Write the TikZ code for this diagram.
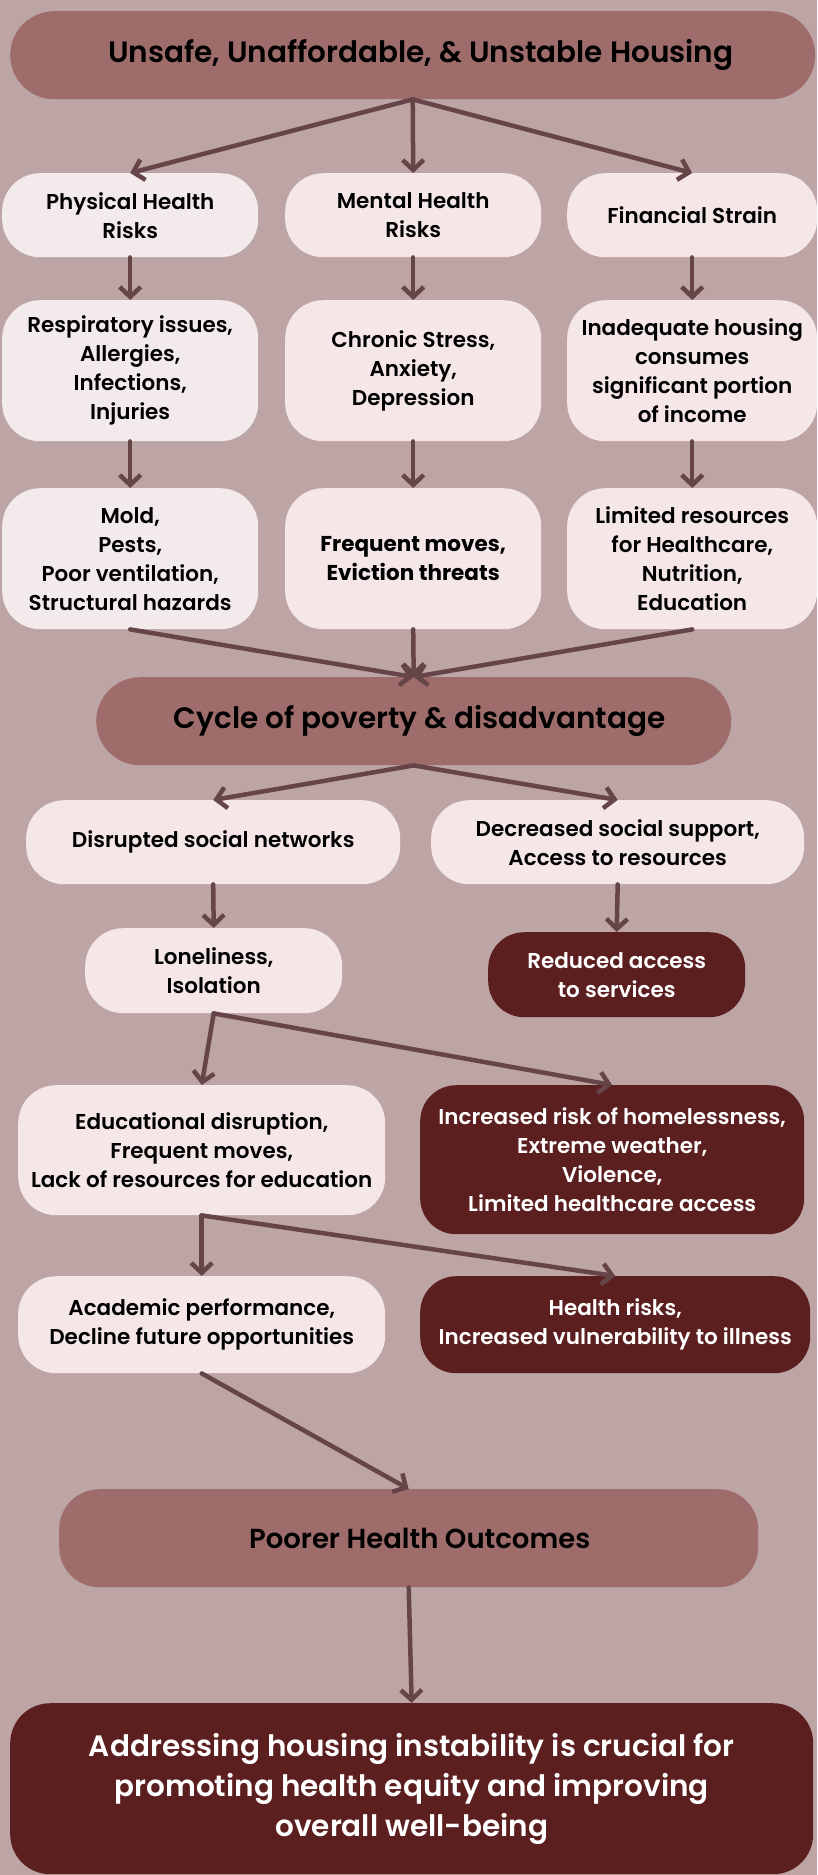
\documentclass[tikz,border=0pt]{standalone}
\usepackage{fontspec}
\setmainfont{Poppins}[UprightFont=* SemiBold, BoldFont=* Bold]
\usetikzlibrary{arrows.meta}
\definecolor{bgc}{HTML}{BDA5A5}
\definecolor{mainc}{HTML}{9E6D6B}
\definecolor{lightA}{HTML}{F3EBEB}
\definecolor{lightB}{HTML}{F5E7E7}
\definecolor{darkc}{HTML}{5C1F20}
\definecolor{arrc}{HTML}{664549}
\tikzset{
  box/.style={rectangle, anchor=north west, align=center, inner sep=0pt, text=black,
    font=\fontsize{21.5}{29}\selectfont},
  lbox/.style={box, fill=lightB, rounded corners=38pt},
  lboxA/.style={box, fill=lightA, rounded corners=38pt},
  dbox/.style={box, fill=darkc, text=white, rounded corners=36pt},
  mbox/.style={box, fill=mainc, rounded corners=44pt, font=\fontsize{29.5}{34}\selectfont},
  arr/.style={draw=arrc, line width=4.5pt, line cap=round, -{Straight Barb[length=10pt,width=21pt]}},
}
\begin{document}
\begin{tikzpicture}[x=1pt,y=-1pt]
\fill[bgc] (0,0) rectangle (817,1875);
\useasboundingbox (0,0) rectangle (817,1875);
% title
\node[mbox, minimum width=805pt, minimum height=88pt] (t) at (10,11) {\hspace*{16pt}Unsafe, Unaffordable, \& Unstable Housing};
% row 1
\node[lboxA, minimum width=256pt, minimum height=84pt] (p1) at (2,173) {Physical Health\\Risks};
\node[lbox, minimum width=256pt, minimum height=84pt] (m1) at (285,173) {Mental Health\\Risks};
\node[lbox, minimum width=250pt, minimum height=84pt] (f1) at (567,173) {Financial Strain};
% row 2
\node[lboxA, minimum width=256pt, minimum height=141pt] (p2) at (2,300) {Respiratory issues,\\Allergies,\\Infections,\\Injuries};
\node[lbox, minimum width=256pt, minimum height=141pt] (m2) at (285,300) {Chronic Stress,\\Anxiety,\\Depression};
\node[lbox, minimum width=250pt, minimum height=141pt] (f2) at (567,300) {Inadequate housing\\consumes\\significant portion\\of income};
% row 3
\node[lboxA, minimum width=256pt, minimum height=141pt] (p3) at (2,488) {Mold,\\Pests,\\Poor ventilation,\\Structural hazards};
\node[lbox, minimum width=256pt, minimum height=141pt] (m3) at (285,488) {\bfseries Frequent moves,\\\bfseries Eviction threats};
\node[lbox, minimum width=250pt, minimum height=141pt] (f3) at (567,488) {Limited resources\\for Healthcare,\\Nutrition,\\Education};
% cycle
\node[mbox, minimum width=635pt, minimum height=88pt] (cy) at (96,677) {\hspace*{12pt}Cycle of poverty \& disadvantage};
% social
\node[lbox, minimum width=374pt, minimum height=84pt] (ds) at (26,800) {Disrupted social networks};
\node[lbox, minimum width=373pt, minimum height=84pt] (dc) at (431,800) {Decreased social support,\\Access to resources};
\node[lbox, minimum width=257pt, minimum height=85pt] (lo) at (85,928) {Loneliness,\\Isolation};
\node[dbox, minimum width=257pt, minimum height=85pt] (ra) at (488,932) {Reduced access\\to services};
% education
\node[lbox, minimum width=367pt, minimum height=130pt] (ed) at (18,1085) {Educational disruption,\\Frequent moves,\\Lack of resources for education};
\node[dbox, minimum width=384pt, minimum height=149pt] (ir) at (420,1085) {Increased risk of homelessness,\\Extreme weather,\\Violence,\\Limited healthcare access};
\node[lbox, minimum width=367pt, minimum height=97pt] (ac) at (18,1276) {Academic performance,\\Decline future opportunities};
\node[dbox, minimum width=390pt, minimum height=97pt] (hr) at (420,1276) {Health risks,\\Increased vulnerability to illness};
% outcomes
\node[mbox, minimum width=699pt, minimum height=98pt, rounded corners=40pt, font=\fontsize{27.5}{30}\selectfont] (po) at (59,1489) {\hspace*{22pt}Poorer Health Outcomes};
\node[dbox, minimum width=803pt, minimum height=171pt, rounded corners=40pt, font=\fontsize{29.5}{40}\selectfont] (ad) at (10,1703) {Addressing housing instability is crucial for\\promoting health equity and improving\\overall well-being};
% arrows
\draw[arr] (t.south) -- (p1.north);
\draw[arr] (t.south) -- (m1.north);
\draw[arr] (t.south) -- (f1.north);
\draw[arr] (p1.south) -- (p2.north);
\draw[arr] (m1.south) -- (m2.north);
\draw[arr] (f1.south) -- (f2.north);
\draw[arr] (p2.south) -- (p3.north);
\draw[arr] (m2.south) -- (m3.north);
\draw[arr] (f2.south) -- (f3.north);
\draw[arr] (p3.south) -- (cy.north);
\draw[arr] (m3.south) -- (cy.north);
\draw[arr] (f3.south) -- (cy.north);
\draw[arr] (cy.south) -- (ds.north);
\draw[arr] (cy.south) -- (dc.north);
\draw[arr] (ds.south) -- (lo.north);
\draw[arr] (dc.south) -- (ra.north);
\draw[arr] (lo.south) -- (ed.north);
\draw[arr] (lo.south) -- (ir.north);
\draw[arr] (ed.south) -- (ac.north);
\draw[arr] (ed.south) -- (hr.north);
\draw[arr] (ac.south) -- (po.north);
\draw[arr] (po.south) -- (ad.north);
\end{tikzpicture}
\end{document}
